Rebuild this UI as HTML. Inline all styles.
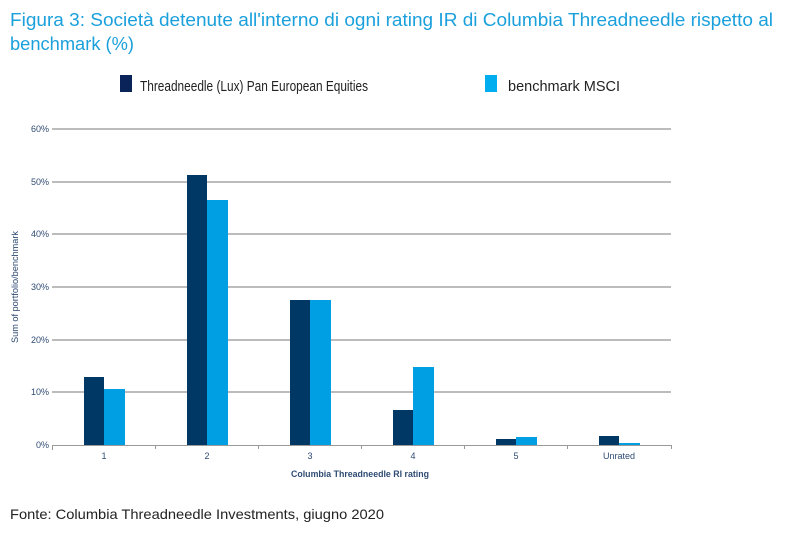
<!DOCTYPE html>
<html><head><meta charset="utf-8"><style>
html,body{margin:0;padding:0;background:#fff;}
svg{display:block;font-family:"Liberation Sans",Arial,sans-serif;}
</style></head><body>
<svg width="797" height="554" viewBox="0 0 797 554" xmlns="http://www.w3.org/2000/svg">
<rect width="797" height="554" fill="#fff"/>
<text x="10" y="26" font-size="18" fill="#1ba0dc" textLength="763" lengthAdjust="spacingAndGlyphs">Figura 3: Società detenute all'interno di ogni rating IR di Columbia Threadneedle rispetto al</text>
<text x="10" y="50" font-size="18" fill="#1ba0dc" textLength="124" lengthAdjust="spacingAndGlyphs">benchmark (%)</text>
<rect x="120" y="75" width="12" height="17" fill="#0a2459"/>
<text x="140" y="91" font-size="15" fill="#222" textLength="228" lengthAdjust="spacingAndGlyphs">Threadneedle (Lux) Pan European Equities</text>
<rect x="485" y="75" width="12" height="17" fill="#00aeef"/>
<text x="508" y="91" font-size="15" fill="#222" textLength="112" lengthAdjust="spacingAndGlyphs">benchmark MSCI</text>
<g stroke="#a6a6a6" stroke-width="1.5">
<line x1="52" y1="129" x2="671" y2="129"/>
<line x1="52" y1="182" x2="671" y2="182"/>
<line x1="52" y1="234" x2="671" y2="234"/>
<line x1="52" y1="287" x2="671" y2="287"/>
<line x1="52" y1="340" x2="671" y2="340"/>
<line x1="52" y1="392" x2="671" y2="392"/>
</g>
<g font-size="9" fill="#2f4b73" text-anchor="end">
<text x="49" y="132">60%</text><text x="49" y="185">50%</text><text x="49" y="237">40%</text>
<text x="49" y="290">30%</text><text x="49" y="343">20%</text><text x="49" y="395">10%</text><text x="49" y="448">0%</text>
</g>
<text transform="translate(18,287) rotate(-90)" font-size="9" fill="#2f4b73" text-anchor="middle" textLength="112" lengthAdjust="spacingAndGlyphs">Sum of portfolio/benchmark</text>
<g fill="#003865">
<rect x="84" y="377" width="20" height="68"/>
<rect x="187" y="175" width="20" height="270"/>
<rect x="290" y="300" width="20" height="145"/>
<rect x="393" y="410" width="20" height="35"/>
<rect x="496" y="439" width="20" height="6"/>
<rect x="599" y="436" width="20" height="9"/>
</g>
<g fill="#009fe3">
<rect x="104" y="389" width="21" height="56"/>
<rect x="207" y="200" width="21" height="245"/>
<rect x="310" y="300" width="21" height="145"/>
<rect x="413" y="367" width="21" height="78"/>
<rect x="516" y="437" width="21" height="8"/>
<rect x="619" y="443" width="21" height="2"/>
</g>
<g stroke="#999" stroke-width="1">
<line x1="52" y1="445.5" x2="672" y2="445.5"/>
<line x1="52.5" y1="445" x2="52.5" y2="450"/>
<line x1="155.5" y1="445" x2="155.5" y2="449"/>
<line x1="258.5" y1="445" x2="258.5" y2="449"/>
<line x1="361.5" y1="445" x2="361.5" y2="449"/>
<line x1="464.5" y1="445" x2="464.5" y2="449"/>
<line x1="567.5" y1="445" x2="567.5" y2="449"/>
<line x1="671.5" y1="445" x2="671.5" y2="449"/>
</g>
<g font-size="9" fill="#2f4b73" text-anchor="middle">
<text x="104" y="459">1</text><text x="207" y="459">2</text><text x="310" y="459">3</text>
<text x="413" y="459">4</text><text x="516" y="459">5</text><text x="619" y="459">Unrated</text>
</g>
<text x="360" y="477" font-size="9" fill="#2f4b73" text-anchor="middle" font-weight="bold" textLength="138" lengthAdjust="spacingAndGlyphs">Columbia Threadneedle RI rating</text>
<text x="10" y="519" font-size="14" fill="#222" textLength="374" lengthAdjust="spacingAndGlyphs">Fonte: Columbia Threadneedle Investments, giugno 2020</text>
</svg>
</body></html>
